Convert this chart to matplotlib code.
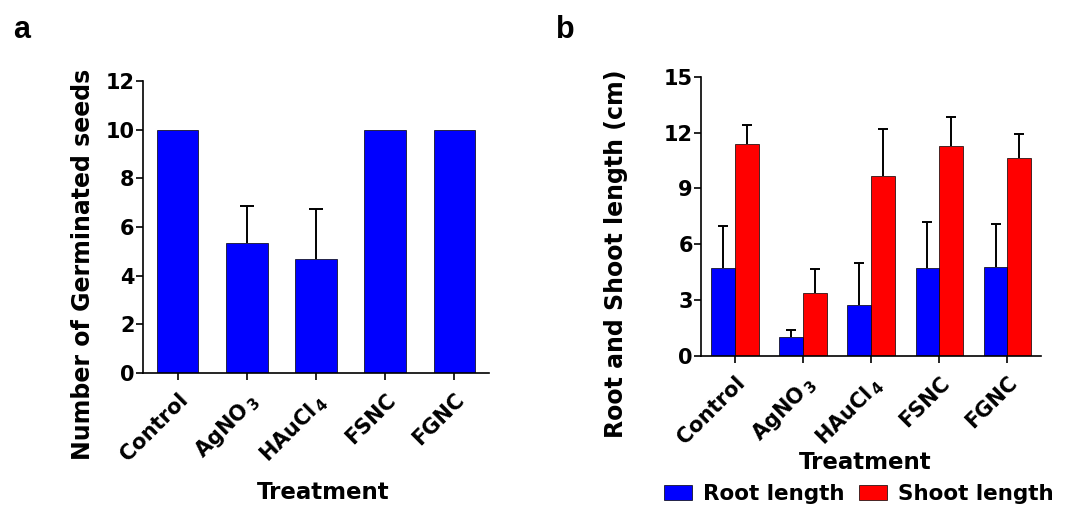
import numpy as np
import matplotlib
matplotlib.use("Agg")
from matplotlib import pyplot as plt
from matplotlib.patches import Patch

plt.rcParams['font.family'] = ['DejaVu Sans']
plt.rcParams['font.weight'] = 'bold'
plt.rcParams['mathtext.fontset'] = 'custom'
plt.rcParams['mathtext.rm'] = 'DejaVu Sans:bold'
plt.rcParams['mathtext.bf'] = 'DejaVu Sans:bold'
plt.rcParams['mathtext.it'] = 'DejaVu Sans:bold'

# data
treatments = ['Control', r'AgNO$_{\,3}$', r'HAuCl$_{\,4}$', 'FSNC', 'FGNC']
germinated = [10, 5.33, 4.67, 10, 10]
germinated_err = [0, 1.53, 2.07, 0, 0]
root_len = [4.74, 1.0, 2.74, 4.73, 4.76]
root_err = [2.26, 0.40, 2.24, 2.47, 2.31]
shoot_len = [11.39, 3.38, 9.68, 11.28, 10.63]
shoot_err = [1.00, 1.27, 2.51, 1.56, 1.29]

fig = plt.figure(figsize=(10.77, 5.08), dpi=100)
ax1 = fig.add_axes([0.1328, 0.2657, 0.3212, 0.5749])
ax2 = fig.add_axes([0.651, 0.2992, 0.316, 0.5498])

x = np.arange(len(treatments))

def style(ax):
    for s in ['top', 'right']:
        ax.spines[s].set_visible(False)
    for s in ['left', 'bottom']:
        ax.spines[s].set_linewidth(1.2)
    ax.tick_params(axis='both', direction='out', length=5, width=1.2)
    ax.tick_params(axis='y', labelsize=15, pad=1)
    ax.tick_params(axis='x', pad=7)
    ax.set_xticks(x)
    ax.set_xticklabels(treatments, rotation=45, ha='right',
                       rotation_mode='anchor', fontsize=15, fontweight='bold')
    for lab in ax.get_yticklabels():
        lab.set_fontweight('bold')
    ax.set_xlim(-0.5, 4.5)

def up_errors(ax, xs, vals, errs, cap):
    xs = np.asarray(xs, dtype=float)
    vals = np.asarray(vals, dtype=float)
    errs = np.asarray(errs, dtype=float)
    m = errs > 0
    ax.errorbar(xs[m], vals[m], yerr=[np.zeros(m.sum()), errs[m]], fmt='none',
                ecolor='black', elinewidth=1.4, capsize=0, zorder=1)
    ax.plot(xs[m], vals[m] + errs[m], linestyle='none', marker='_', markersize=cap,
            markeredgewidth=1.4, color='black', zorder=1)

# panel a
ax1.bar(x, germinated, width=0.6, color='#0000FF', edgecolor='black', linewidth=0.5, zorder=2)
up_errors(ax1, x, germinated, germinated_err, 9.5)
ax1.set_ylim(0, 12)
ax1.set_yticks([0, 2, 4, 6, 8, 10, 12])
style(ax1)
ax1.set_ylabel('Number of Germinated seeds', fontsize=17, fontweight='bold')
ax1.set_xlabel('Treatment', fontsize=16.5, fontweight='bold')
ax1.yaxis.set_label_coords(-0.139, 0.373)
ax1.xaxis.set_label_coords(0.52, -0.408)
ax1.xaxis.label.set_va('center')

# panel b
w = 0.35
ax2.bar(x - w / 2, root_len, width=w, color='#0000FF', edgecolor='black', linewidth=0.5, zorder=2)
ax2.bar(x + w / 2, shoot_len, width=w, color='#FF0000', edgecolor='black', linewidth=0.5, zorder=2)
up_errors(ax2, x - w / 2, root_len, root_err, 6.5)
up_errors(ax2, x + w / 2, shoot_len, shoot_err, 6.5)
ax2.set_ylim(0, 15)
ax2.set_yticks([0, 3, 6, 9, 12, 15])
style(ax2)
ax2.set_ylabel('Root and Shoot length (cm)', fontsize=17, fontweight='bold')
ax2.set_xlabel('Treatment', fontsize=16.5, fontweight='bold')
ax2.yaxis.set_label_coords(-0.214, 0.365)
ax2.xaxis.set_label_coords(0.481, -0.383)
ax2.xaxis.label.set_va('center')

handles = [Patch(facecolor='#0000FF', edgecolor='black', linewidth=0.5),
           Patch(facecolor='#FF0000', edgecolor='black', linewidth=0.5)]
fig.legend(handles, ['Root length', 'Shoot length'], loc='center',
           bbox_to_anchor=(859 / 1077, 1 - 494 / 508), ncol=2, frameon=False,
           prop=dict(size=15.5, weight='bold'), handlelength=1.3, handleheight=0.65,
           handletextpad=0.5, columnspacing=0.7, borderpad=0, borderaxespad=0)

fig.text(13 / 1077, 1 - 38 / 508, 'a', fontsize=22, fontweight='bold', family='Liberation Sans')
fig.text(556 / 1077, 1 - 38 / 508, 'b', fontsize=22, fontweight='bold', family='Liberation Sans')

fig.savefig('out.png', dpi=100)
